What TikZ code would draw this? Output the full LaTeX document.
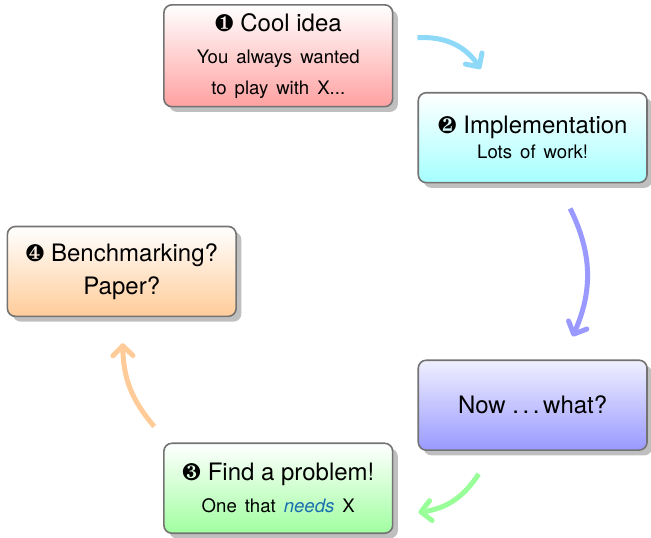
\documentclass[tikz,border=0pt]{standalone}
\usepackage{fontspec}
\setmainfont{TeX Gyre Heros}
\usepackage{pifont}
\usetikzlibrary{shadows, arrows.meta}
\usepackage{xcolor}
\definecolor{xsky}{HTML}{8ED8F8}
\definecolor{xneeds}{HTML}{1A6FB0}
\newcommand{\subtxt}[1]{{\fontsize{9.3}{11}\selectfont\spaceskip=0.43em\relax #1}}
\tikzset{
	box/.style={draw=black!55, line width=0.8pt, rounded corners=4pt, drop shadow, minimum width=4.02cm, minimum height=1.58cm, align=center, font=\small},
	step arrow/.style={line width=2.5pt, -{Straight Barb[length=5pt, width=10pt, round]}},
}

\begin{document}
\begin{tikzpicture}
			\useasboundingbox (0,0) rectangle (11.44,-9.45);
			\node[box, top color=white, bottom color=red!37, minimum height=1.79cm] (idea) at (4.89,-0.98) {{\large\ding{182} Cool idea}\\[5pt] \subtxt{You always wanted}\\[4.5pt] \subtxt{to play with X...}};
			\node[box, top color=white, bottom color=cyan!35] (impl) at (9.36,-2.42) {{\large\ding{183} Implementation}\\[1.5pt] \subtxt{Lots of work!}};
			\node[box, top color=blue!6, bottom color=blue!40] (now) at (9.36,-7.12) {{\large Now .\kern.15em.\kern.15em.\kern.15em what?}};
			\node[box, top color=white, bottom color=green!37] (prob) at (4.89,-8.58) {{\large\ding{184} Find a problem!}\\[5pt] \subtxt{One that \textcolor{xneeds}{\emph{needs}} X}};
			\node[box, font=\large, top color=white, bottom color=orange!40] (bench) at (2.14,-4.77) {\ding{185} Benchmarking?\\[2.5pt] Paper?};

			\draw[step arrow, xsky] ([xshift=12pt, yshift=9pt]idea.east) to[bend left=30] ([xshift=-26pt, yshift=11.5pt]impl.north);
			\draw[step arrow, blue!40] ([xshift=18.75pt, yshift=-12.5pt]impl.south) to[bend left=25] ([xshift=20pt, yshift=11.5pt]now.north);
			\draw[step arrow, green!40] ([xshift=-27pt, yshift=-11.5pt]now.south) to[bend left=25] ([xshift=12.5pt, yshift=-12pt]prob.east);
			\draw[step arrow, orange!40] ([xshift=-62pt, yshift=8pt]prob.north) to[bend left=20] ([xshift=0.5pt, yshift=-13pt]bench.south);
		\end{tikzpicture}
\end{document}
